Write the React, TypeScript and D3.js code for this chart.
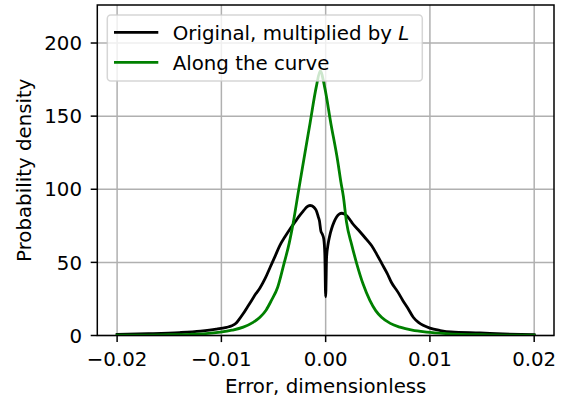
import React from "react";
import * as d3 from "d3";

const xTicks = [-0.02, -0.01, 0, 0.01, 0.02];
const yTicks = [0, 50, 100, 150, 200];
const seriesNames = ["Original, multiplied by L", "Along the curve"];

const originalX = [-0.02, -0.017, -0.014, -0.012, -0.0105, -0.0095, -0.009, -0.0086, -0.0083, -0.0079, -0.0075, -0.0071, -0.0067, -0.0063, -0.0058, -0.0053, -0.0048, -0.0044, -0.0039, -0.0034, -0.0029, -0.0025, -0.0021, -0.0018, -0.0015, -0.0013, -0.0011, -0.0009, -0.0007, -0.0006, -0.00046, -0.0003, -0.00018, -0.00008, 0, 0.00009, 0.00024, 0.0004, 0.00057, 0.0008, 0.00105, 0.0013, 0.00155, 0.0018, 0.002, 0.0023, 0.0026, 0.0031, 0.0036, 0.004, 0.0044, 0.0049, 0.0054, 0.0059, 0.0063, 0.0069, 0.0074, 0.0079, 0.0084, 0.0089, 0.0094, 0.01, 0.011, 0.012, 0.0148, 0.017, 0.02];
const originalY = [0.7, 1.2, 2.0, 3.0, 4.3, 5.6, 6.6, 8.3, 11.0, 15.0, 19.5, 24.0, 28.5, 32.5, 39.0, 47.0, 55.0, 61.5, 67.5, 73.0, 78.0, 82.0, 85.5, 88.0, 88.9, 88.7, 87.5, 85.5, 81.0, 78.6, 71.5, 69.0, 66.0, 56.0, 26.5, 53.5, 62.7, 68.5, 73.0, 77.5, 81.0, 83.0, 83.6, 83.0, 82.0, 79.5, 76.4, 72.5, 68.4, 65.0, 61.5, 55.5, 49.0, 42.5, 36.4, 30.0, 24.0, 18.5, 12.5, 9.0, 6.8, 5.0, 3.4, 2.4, 1.7, 1.1, 0.5];

const alongX = [-0.02, -0.017, -0.015, -0.013, -0.0115, -0.0101, -0.009, -0.0079, -0.007, -0.0063, -0.0057, -0.0052, -0.0046, -0.004, -0.0035, -0.0031, -0.0026, -0.0021, -0.0015, -0.0009, -0.00052, -0.0001, 0.0005, 0.00114, 0.00146, 0.0017, 0.002, 0.0025, 0.00297, 0.0036, 0.00424, 0.0048, 0.00536, 0.0062, 0.00712, 0.0083, 0.00968, 0.0115, 0.013, 0.015, 0.017, 0.02];
const alongY = [0.2, 0.3, 0.5, 0.8, 1.3, 2.3, 3.6, 5.7, 8.8, 12.5, 17.5, 24.0, 33.0, 49.0, 63.0, 77.5, 99.0, 120.0, 145.0, 170.0, 181.0, 170.0, 145.0, 120.0, 105.0, 95.0, 77.5, 62.0, 49.4, 35.0, 24.0, 17.0, 12.5, 8.3, 5.7, 3.6, 2.3, 1.3, 0.8, 0.5, 0.3, 0.2];

const FONT = "DejaVu Sans, sans-serif";
const FS = 19.8;

export default function App() {
  const W = 567, H = 404;
  const left = 97.3, right = 554, top = 5, bottom = 335.5;
  const x = d3.scaleLinear().domain([-0.0219, 0.0219]).range([left, right]);
  const y = d3.scaleLinear().domain([0, 226]).range([bottom, top]);

  const line = d3.line<[number, number]>()
    .x((d) => x(d[0]))
    .y((d) => y(d[1]))
    .curve(d3.curveMonotoneX);

  const origData: [number, number][] = originalX.map((v, i) => [v, originalY[i]]);
  const alongData: [number, number][] = alongX.map((v, i) => [v, alongY[i]]);

  const fmtX = (v: number) => d3.format(".2f")(v).replace("-", "\u2212");
  const tickLen = 6.6;
  const mid = 0.3645 * FS;

  const legX = 107.3, legY = 15, legW = 315, legH = 66;

  return (
    <svg width={W} height={H} style={{ position: "absolute", left: 0, top: 0, background: "#fff" }} fontFamily={FONT}>
      <defs>
        <clipPath id="plotclip">
          <rect x={left} y={top} width={right - left} height={bottom - top} />
        </clipPath>
      </defs>
      <g stroke="#b0b0b0" strokeWidth={1.5}>
        {xTicks.map((t) => (
          <line key={"gx" + t} x1={x(t)} x2={x(t)} y1={top} y2={bottom} />
        ))}
        {yTicks.map((t) => (
          <line key={"gy" + t} x1={left} x2={right} y1={y(t)} y2={y(t)} />
        ))}
      </g>
      <g clipPath="url(#plotclip)" fill="none" strokeWidth={2.8} strokeLinejoin="round" strokeLinecap="square">
        <path d={line(origData) || ""} stroke="#000000" />
        <path d={line(alongData) || ""} stroke="#008000" />
      </g>
      <rect x={left} y={top} width={right - left} height={bottom - top} fill="none" stroke="#000" strokeWidth={1.5} />
      <g>
        {xTicks.map((t) => (
          <g key={"xt" + t}>
            <line x1={x(t)} x2={x(t)} y1={bottom} y2={bottom + tickLen} stroke="#000" strokeWidth={1.5} />
            <text x={x(t)} y={366} textAnchor="middle" fontSize={FS} fill="#000">{fmtX(t)}</text>
          </g>
        ))}
      </g>
      <g>
        {yTicks.map((t) => (
          <g key={"yt" + t}>
            <line x1={left - tickLen} x2={left} y1={y(t)} y2={y(t)} stroke="#000" strokeWidth={1.5} />
            <text x={82} y={y(t) + mid} textAnchor="end" fontSize={FS} fill="#000">{t}</text>
          </g>
        ))}
      </g>
      <text x={(left + right) / 2} y={393.3} textAnchor="middle" fontSize={FS} fill="#000">Error, dimensionless</text>
      <text transform={`translate(31,${(top + bottom) / 2}) rotate(-90)`} textAnchor="middle" fontSize={FS} fill="#000">Probability density</text>
      <g>
        <rect x={legX} y={legY} width={legW} height={legH} rx={3.5} ry={3.5} fill="#fff" fillOpacity={0.8} stroke="#cccccc" strokeOpacity={0.8} strokeWidth={1.5} />
        <line x1={114} x2={158.3} y1={32.3} y2={32.3} stroke="#000" strokeWidth={2.8} />
        <text x={172.7} y={32.3 + mid} fontSize={FS} fill="#000">
          {seriesNames[0].slice(0, -1)}
          <tspan fontStyle="italic">{seriesNames[0].slice(-1)}</tspan>
        </text>
        <line x1={114} x2={158.3} y1={62.3} y2={62.3} stroke="#008000" strokeWidth={2.8} />
        <text x={172.7} y={62.3 + mid} fontSize={FS} fill="#000">{seriesNames[1]}</text>
      </g>
    </svg>
  );
}
